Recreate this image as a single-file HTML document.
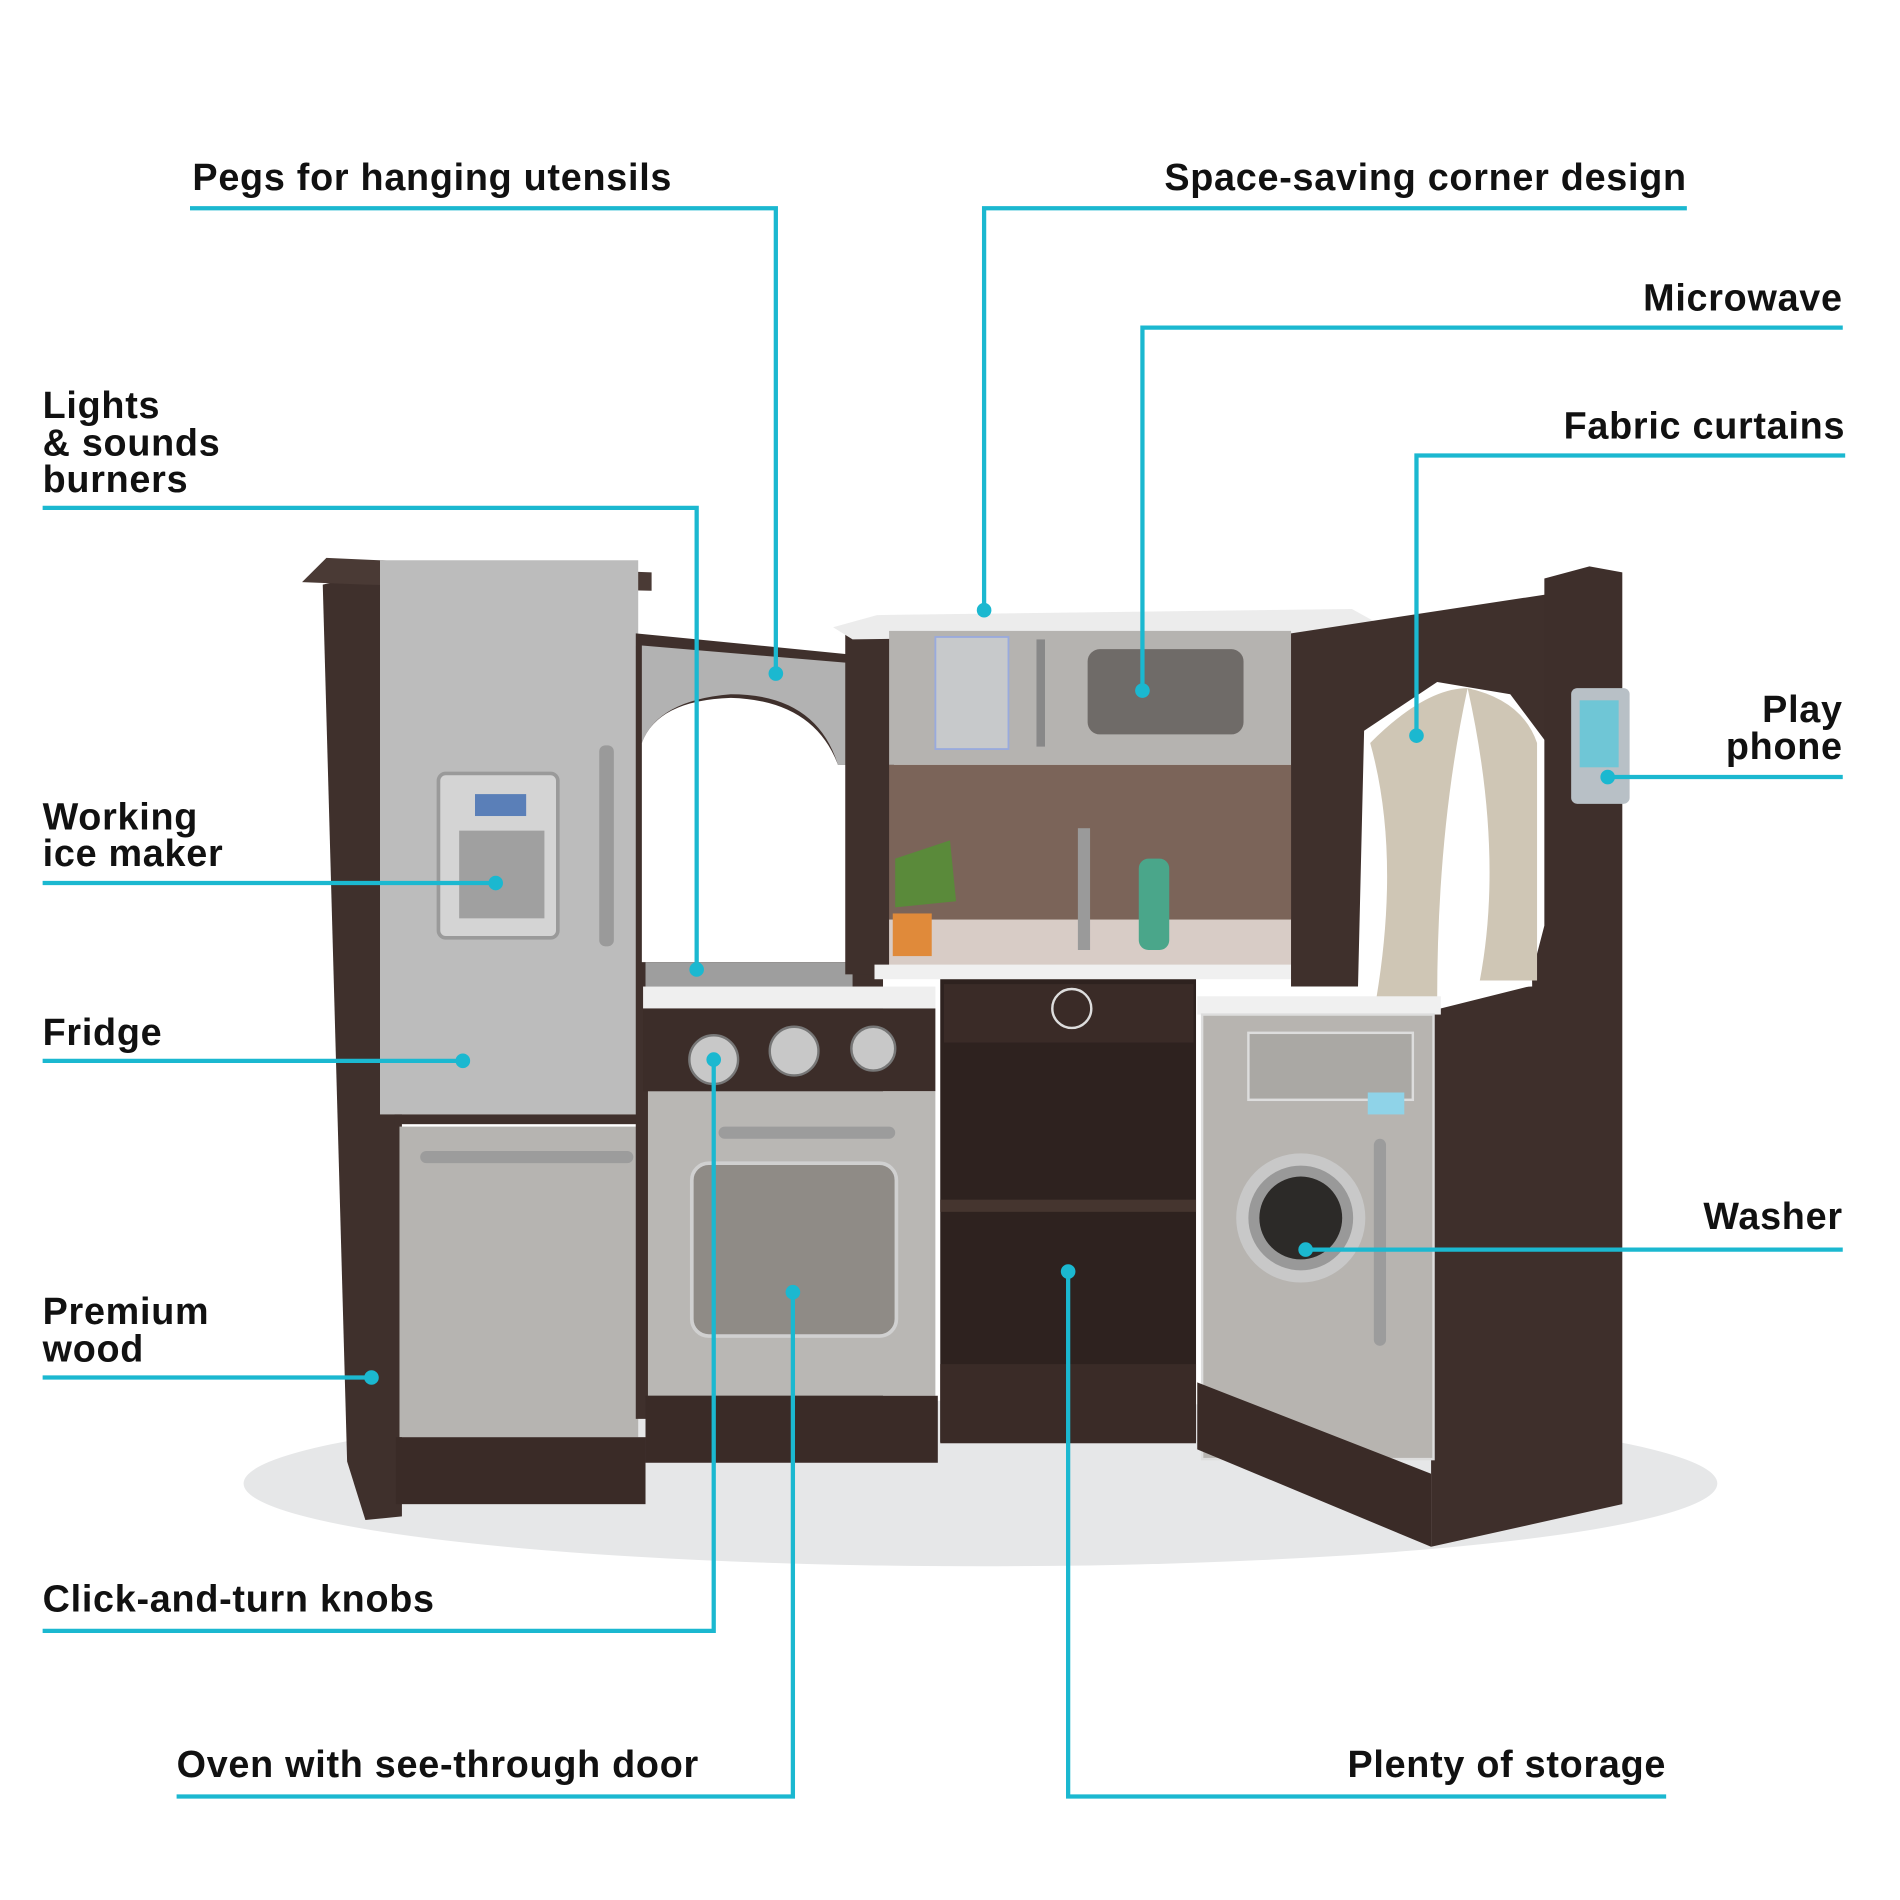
<!DOCTYPE html>
<html><head><meta charset="utf-8"><style>
html,body{margin:0;padding:0;background:#fff}
svg{display:block}
text{font-family:"Liberation Sans",sans-serif;font-weight:bold;font-size:31px;fill:#111;letter-spacing:0.6px}
</style></head><body>
<svg width="1900" height="1900" viewBox="0 0 1560 1560" xmlns="http://www.w3.org/2000/svg">
<rect width="1560" height="1560" fill="#fff"/>
<ellipse cx="805" cy="1218" rx="605" ry="68" fill="#e6e7e8"/>
<polygon points="265,480 330,465 330,1245 300,1248 285,1200" fill="#3f302c"/>
<polygon points="248,478 268,458 535,470 535,485 300,480" fill="#4a3a35"/>
<rect x="312" y="460" width="212" height="455" fill="#bcbcbc"/>
<rect x="324" y="915" width="200" height="8" fill="#3f302c"/>
<rect x="328" y="925" width="196" height="255" fill="#b6b4b1"/>
<rect x="325" y="1180" width="205" height="55" fill="#3a2b27"/>
<rect x="492" y="612" width="12" height="165" rx="5" fill="#9a9a9a"/>
<rect x="345" y="945" width="175" height="10" rx="5" fill="#9c9c9c"/>
<rect x="360" y="635" width="98" height="135" rx="6" fill="#d4d4d4" stroke="#9a9a9a" stroke-width="3"/>
<rect x="390" y="652" width="42" height="18" fill="#5a7fb8"/>
<rect x="377" y="682" width="70" height="72" fill="#a0a0a0"/>
<polygon points="522,520 725,540 725,1165 522,1165" fill="#3f302c"/>
<path d="M527,530 L705,545 L705,628 L688,628 Q670,570 600,570 Q540,575 527,610 Z" fill="#b2b2b2"/>
<path d="M527,610 Q540,575 600,573 Q668,575 688,628 L700,628 L700,790 L527,790 Z" fill="#fff"/>
<rect x="530" y="790" width="170" height="20" fill="#9e9e9e"/>
<rect x="528" y="810" width="240" height="18" fill="#efefef"/>
<rect x="528" y="828" width="240" height="68" fill="#3c2d29"/>
<circle cx="586" cy="870" r="20" fill="#c8c8c8" stroke="#777" stroke-width="2"/>
<circle cx="652" cy="863" r="20" fill="#c8c8c8" stroke="#777" stroke-width="2"/>
<circle cx="717" cy="861" r="18" fill="#c8c8c8" stroke="#777" stroke-width="2"/>
<rect x="532" y="896" width="236" height="250" fill="#b9b7b4"/>
<rect x="590" y="925" width="145" height="10" rx="5" fill="#9c9c9c"/>
<rect x="568" y="955" width="168" height="142" rx="14" fill="#8f8b86" stroke="#d0d0d0" stroke-width="3"/>
<rect x="530" y="1146" width="240" height="55" fill="#3a2b27"/>
<rect x="694" y="520" width="40" height="280" fill="#3f302c"/>
<polygon points="684,515 720,505 1110,500 1128,510 1060,520 700,525" fill="#ececec"/>
<rect x="730" y="518" width="330" height="110" fill="#b5b3b0"/>
<rect x="768" y="523" width="60" height="92" fill="#c7c9cb" stroke="#9ad" stroke-width="1.5"/>
<rect x="893" y="533" width="128" height="70" rx="10" fill="#6f6b68"/>
<rect x="851" y="525" width="7" height="88" fill="#888"/>
<rect x="730" y="628" width="330" height="165" fill="#7b6459"/>
<rect x="730" y="755" width="330" height="38" fill="#d8ccc6"/>
<rect x="885" y="680" width="10" height="100" fill="#9a9a9a"/>
<rect x="935" y="705" width="25" height="75" rx="8" fill="#4aa68a"/>
<polygon points="735,705 780,690 785,740 735,745" fill="#5a8a3a"/>
<rect x="733" y="750" width="32" height="35" fill="#e08a3a"/>
<rect x="718" y="792" width="345" height="12" fill="#f0f0f0"/>
<rect x="772" y="804" width="210" height="380" fill="#2e221f"/>
<rect x="775" y="808" width="205" height="48" fill="#3a2b27"/>
<circle cx="880" cy="828" r="16" fill="none" stroke="#ddd" stroke-width="2"/>
<rect x="772" y="985" width="210" height="10" fill="#45352f"/>
<rect x="772" y="1120" width="210" height="65" fill="#3a2b27"/>
<polygon points="1060,520 1270,488 1270,610 1240,570 1180,560 1120,600 1115,810 1060,810" fill="#3f302c"/>
<polygon points="1268,475 1305,465 1332,470 1332,1235 1175,1270 1175,830 1255,810 1268,760" fill="#3e2f2b"/>
<path d="M1120,610 Q1180,550 1255,590 L1258,810 L1125,815 Z" fill="#fff"/>
<path d="M1125,610 Q1170,565 1205,565 Q1180,680 1180,820 L1130,820 Q1150,700 1125,610 Z" fill="#cfc6b5"/>
<path d="M1205,565 Q1250,575 1262,610 L1262,805 L1215,805 Q1235,700 1205,565 Z" fill="#cfc6b5"/>
<rect x="1290" y="565" width="48" height="95" rx="5" fill="#b8c0c6"/>
<rect x="1297" y="575" width="32" height="55" fill="#6fc6d6"/>
<rect x="983" y="818" width="200" height="15" fill="#f0f0f0"/>
<rect x="987" y="833" width="190" height="365" fill="#b7b4b0" stroke="#ddd" stroke-width="2"/>
<rect x="1025" y="848" width="135" height="55" fill="#aaa8a4" stroke="#ddd" stroke-width="2"/>
<rect x="1123" y="897" width="30" height="18" fill="#8fd3e8"/>
<circle cx="1068" cy="1000" r="48" fill="#999" stroke="#c8c8c8" stroke-width="10"/>
<circle cx="1068" cy="1000" r="34" fill="#2c2a28"/>
<rect x="1128" y="935" width="10" height="170" rx="5" fill="#9c9c9c"/>
<polygon points="983,1135 1175,1210 1175,1270 983,1190" fill="#3a2b27"/>
<g stroke="#1bb8d0" stroke-width="3.5" fill="none">
<polyline points="156,171 637,171 637,553"/>
<polyline points="1385,171 808,171 808,501"/>
<polyline points="1513,269 938,269 938,567"/>
<polyline points="1515,374 1163,374 1163,604"/>
<polyline points="35,417 572,417 572,796"/>
<polyline points="1513,638 1320,638"/>
<polyline points="35,725 407,725"/>
<polyline points="35,871 380,871"/>
<polyline points="1513,1026 1072,1026"/>
<polyline points="35,1131 305,1131"/>
<polyline points="35,1339 586,1339 586,870"/>
<polyline points="145,1475 651,1475 651,1061"/>
<polyline points="1368,1475 877,1475 877,1044"/>
</g>
<g fill="#1bb8d0">
<circle cx="637" cy="553" r="6"/><circle cx="808" cy="501" r="6"/><circle cx="938" cy="567" r="6"/>
<circle cx="1163" cy="604" r="6"/><circle cx="572" cy="796" r="6"/><circle cx="1320" cy="638" r="6"/>
<circle cx="407" cy="725" r="6"/><circle cx="380" cy="871" r="6"/><circle cx="1072" cy="1026" r="6"/>
<circle cx="305" cy="1131" r="6"/><circle cx="586" cy="870" r="6"/><circle cx="651" cy="1061" r="6"/>
<circle cx="877" cy="1044" r="6"/>
</g>
<text x="158" y="156">Pegs for hanging utensils</text>
<text x="1385" y="156" text-anchor="end">Space-saving corner design</text>
<text x="1513" y="255" text-anchor="end">Microwave</text>
<text x="1515" y="360" text-anchor="end">Fabric curtains</text>
<text x="35" y="343">Lights</text>
<text x="35" y="374">&amp; sounds</text>
<text x="35" y="404">burners</text>
<text x="1513" y="593" text-anchor="end">Play</text>
<text x="1513" y="623" text-anchor="end">phone</text>
<text x="35" y="681">Working</text>
<text x="35" y="711">ice maker</text>
<text x="35" y="858">Fridge</text>
<text x="1513" y="1009" text-anchor="end">Washer</text>
<text x="35" y="1087">Premium</text>
<text x="35" y="1118">wood</text>
<text x="35" y="1323">Click-and-turn knobs</text>
<text x="145" y="1459">Oven with see-through door</text>
<text x="1368" y="1459" text-anchor="end">Plenty of storage</text>
</svg>
</body></html>
